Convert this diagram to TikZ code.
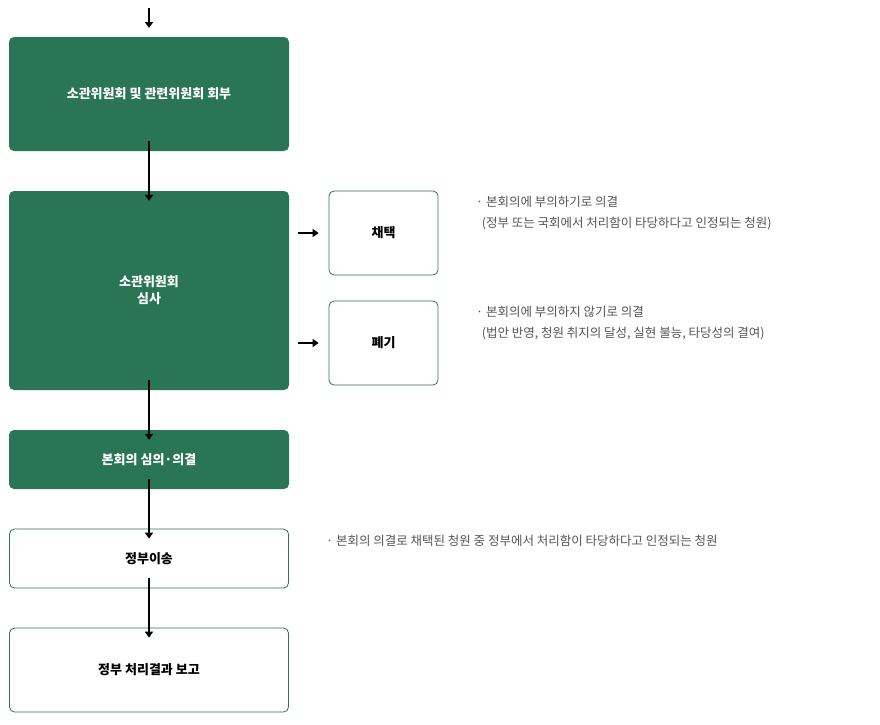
\documentclass[tikz,border=0pt]{standalone}
\usepackage{fontspec}
\setmainfont{Noto Sans CJK KR}
\usetikzlibrary{arrows.meta}
\definecolor{gr}{HTML}{2A7556}
\definecolor{tx}{HTML}{555555}
\tikzset{
 gbox/.style={draw=none,fill=gr,rounded corners=5pt,text=white,font=\fontsize{13}{17}\selectfont\bfseries,align=center},
 wbox/.style={draw=gr,line width=0.8pt,fill=white,rounded corners=5pt,text=black,font=\fontsize{13}{17}\selectfont\bfseries,align=center},
 arr/.style={-{Triangle[length=6pt,width=8pt]},line width=1.5pt},
 note/.style={anchor=north west,text=tx,font=\fontsize{12.5}{21}\selectfont,align=left,inner sep=0pt}
}
\begin{document}
\begin{tikzpicture}[x=1pt,y=-1pt]
\useasboundingbox (0,0) rectangle (880,724);
\node[gbox,minimum width=280pt,minimum height=114pt] (b1) at (149,94) {소관위원회 및 관련위원회 회부};
\node[gbox,minimum width=280pt,minimum height=199pt] (b2) at (149,290.5) {소관위원회\\심사};
\node[wbox,minimum width=109pt,minimum height=84pt] (c1) at (383.5,233) {채택};
\node[wbox,minimum width=109pt,minimum height=84pt] (c2) at (383.5,343) {폐기};
\node[gbox,minimum width=280pt,minimum height=59pt] (b3) at (149,459.5) {본회의 심의·의결};
\node[wbox,minimum width=279pt,minimum height=59pt] (b4) at (149,558.5) {정부이송};
\node[wbox,minimum width=279pt,minimum height=84pt] (b5) at (149,670) {정부 처리결과 보고};
\coordinate (t0) at (149,8);
\coordinate (t1) at (149,28);
\draw[arr] (t0) -- (t1);
\draw[arr] ([yshift=10]b1.south) -- ([yshift=-10]b2.north);
\draw[arr] ([yshift=10]b2.south) -- ([yshift=-10]b3.north);
\draw[arr] ([yshift=10]b3.south) -- ([yshift=-10]b4.north);
\draw[arr] ([yshift=10]b4.south) -- ([yshift=-10]b5.north);
\draw[arr] ([xshift=9]c1.west-|b2.east) -- ([xshift=-10]c1.west);
\draw[arr] ([xshift=9]c2.west-|b2.east) -- ([xshift=-10]c2.west);
\node[note] (n1) at (476,196) {· 본회의에 부의하기로 의결\\\ \ (정부 또는 국회에서 처리함이 타당하다고 인정되는 청원)};
\node[note] (n2) at (476,306) {· 본회의에 부의하지 않기로 의결\\\ \ (법안 반영, 청원 취지의 달성, 실현 불능, 타당성의 결여)};
\node[note] (n3) at (326,535) {· 본회의 의결로 채택된 청원 중 정부에서 처리함이 타당하다고 인정되는 청원};
\end{tikzpicture}
\end{document}
